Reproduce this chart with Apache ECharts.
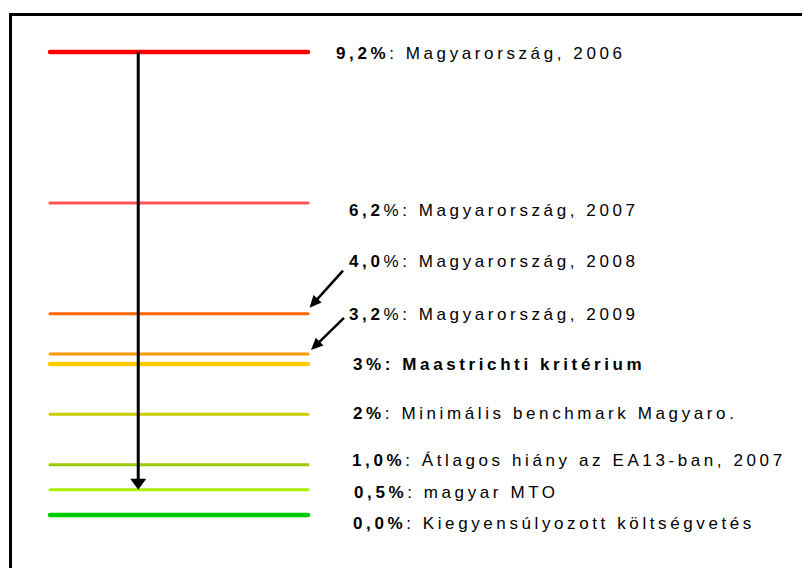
<!DOCTYPE html>
<html>
<head>
<meta charset="utf-8">
<script src="https://cdn.jsdelivr.net/npm/echarts@6/dist/echarts.min.js"></script>
<style>
  html, body { margin: 0; padding: 0; background: #fff; }
  #chart { width: 802px; height: 568px; }
  /* spaced-out lettering of the annotation texts */
  #chart text { letter-spacing: 3.6px; }
</style>
</head>
<body>
<div id="chart"></div>
<script>
// Deficit levels (% of GDP), top to bottom
const values = [9.2, 6.2, 4.0, 3.2, 3.0, 2.0, 1.0, 0.5, 0.0];
// Bold lead of each caption and the regular-weight remainder
const boldText = ['9,2%', '6,2', '4,0', '3,2', '3%: Maastrichti kritérium', '2%', '1,0%', '0,5%', '0,0%'];
const plainText = [
  ': Magyarország, 2006',
  '%: Magyarország, 2007',
  '%: Magyarország, 2008',
  '%: Magyarország, 2009',
  '',
  ': Minimális benchmark Magyaro.',
  ': Átlagos hiány az EA13-ban, 2007',
  ': magyar MTO',
  ': Kiegyensúlyozott költségvetés'
];

// Styling
const lineColors = ['#ff0000', '#ff5555', '#ff6600', '#ff9900', '#ffcc00', '#cccc00', '#99cc00', '#aaee00', '#00cc00'];
const lineWidths = [4.5, 3.2, 3, 3, 4.5, 3, 3, 3, 4.5];
const labelOffsets = [[28, 1], [41, 8], [41, -52], [41, -39], [45, 0], [45, -1], [44, -4], [46, 3], [45, 8]];
const LETTER_SPACING = 3.6;
const FONT = 'Liberation Sans, Arial, sans-serif';

// Text measuring that accounts for the letter spacing, so rich-text runs line up
const measureCtx = document.createElement('canvas').getContext('2d');
echarts.setPlatformAPI({
  measureText(text, font) {
    measureCtx.font = font || '12px sans-serif';
    const w = measureCtx.measureText(text).width;
    return { width: w + LETTER_SPACING * Array.from(text).length };
  }
});

const chart = echarts.init(document.getElementById('chart'), null, { renderer: 'svg' });

const richStyles = {
  b: { fontFamily: FONT, fontSize: 17, fontWeight: 'bold', color: '#000', lineHeight: 20 },
  n: { fontFamily: FONT, fontSize: 17, fontWeight: 'normal', color: '#000', lineHeight: 20 }
};

chart.setOption({
  animation: false,
  grid: { left: 50, top: 52, width: 258, bottom: 53 },
  xAxis: { type: 'value', min: 0, max: 1, show: false },
  yAxis: { type: 'value', min: 0, max: 9.2, show: false },
  series: values.map((v, i) => ({
    type: 'line',
    data: [[0, v], [1, v]],
    symbol: 'none',
    silent: true,
    clip: false,
    lineStyle: { color: lineColors[i], width: lineWidths[i], cap: 'round' },
    endLabel: {
      show: true,
      distance: 0,
      offset: labelOffsets[i],
      formatter: () => '{b|' + boldText[i] + '}' + (plainText[i] ? '{n|' + plainText[i] + '}' : ''),
      rich: richStyles
    }
  }))
});

// Arrow made of a shaft and a filled triangular head
function arrow(from, to, width, headLen, headWidth) {
  const dx = to[0] - from[0], dy = to[1] - from[1];
  const len = Math.hypot(dx, dy);
  const ux = dx / len, uy = dy / len;
  const bx = to[0] - ux * headLen, by = to[1] - uy * headLen;
  const nx = -uy, ny = ux;
  return [
    { type: 'line', silent: true, z: 10,
      shape: { x1: from[0], y1: from[1], x2: bx + ux, y2: by + uy },
      style: { stroke: '#000', lineWidth: width } },
    { type: 'polygon', silent: true, z: 10,
      shape: { points: [[to[0], to[1]],
        [bx + nx * headWidth / 2, by + ny * headWidth / 2],
        [bx - nx * headWidth / 2, by - ny * headWidth / 2]] },
      style: { fill: '#000' } }
  ];
}

const toPx = (p) => chart.convertToPixel({ gridIndex: 0 }, p);

// Main arrow: from the 2006 level down to the MTO level
const mainX = 0.342;
const graphics = [
  { type: 'rect', silent: true, z: -1,
    shape: { x: 10.5, y: 14.5, width: 800, height: 600 },
    style: { fill: 'none', stroke: '#000', lineWidth: 3 } }
];
graphics.push(...arrow(toPx([mainX, values[0]]), toPx([mainX, values[7]]), 3, 11, 16));

// Pointers from the 2008 and 2009 captions to their lines
const pointers = [
  { idx: 2, tip: [1.5, -6], start: [-6, 9] },
  { idx: 3, tip: [3, -4], start: [-5, 3] }
];
pointers.forEach(p => {
  const end = toPx([1, values[p.idx]]);
  const anchor = [end[0] + labelOffsets[p.idx][0], end[1] + labelOffsets[p.idx][1]];
  graphics.push(...arrow(
    [anchor[0] + p.start[0], anchor[1] + p.start[1]],
    [end[0] + p.tip[0], end[1] + p.tip[1]],
    2.5, 12, 11));
});

chart.setOption({ graphic: graphics });
</script>
</body>
</html>
